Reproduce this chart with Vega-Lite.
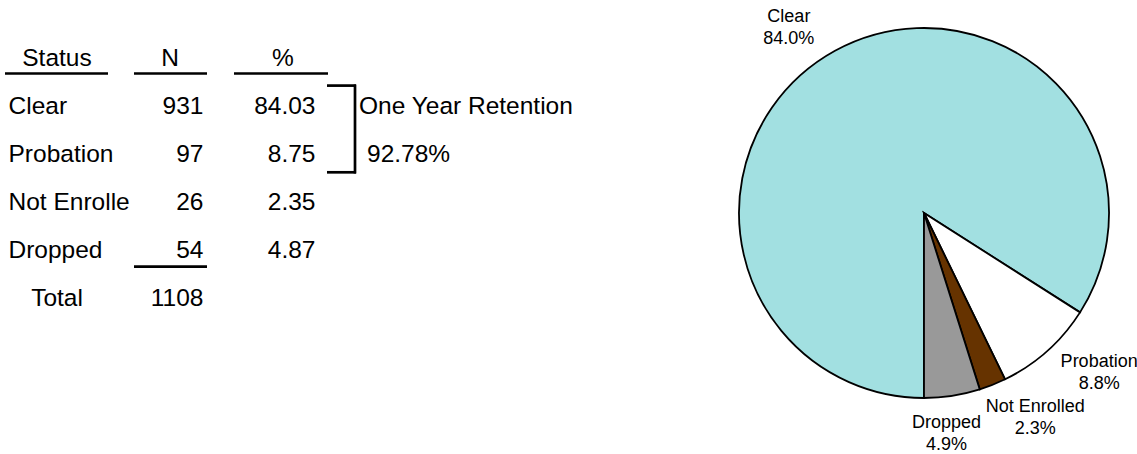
{
  "$schema": "https://vega.github.io/schema/vega-lite/v6.json",
  "padding": 0,
  "background": "white",
  "spacing": 0,
  "config": {
    "view": {"stroke": null},
    "axis": {"disable": true},
    "text": {"font": "Liberation Sans", "fontSize": 24.5, "baseline": "alphabetic", "color": "black"},
    "tick": {"color": "black", "opacity": 1}
  },
  "datasets": {
    "rows": [
      {"k": 1, "status": "Clear", "short": "Clear", "n": 931, "pct": 84.03, "lbl": "Clear\n84.0%"},
      {"k": 2, "status": "Probation", "short": "Probation", "n": 97, "pct": 8.75, "lbl": "Probation\n8.8%"},
      {"k": 3, "status": "Not Enrolled", "short": "Not Enrolle", "n": 26, "pct": 2.35, "lbl": "Not Enrolled\n2.3%"},
      {"k": 4, "status": "Dropped", "short": "Dropped", "n": 54, "pct": 4.87, "lbl": "Dropped\n4.9%"}
    ],
    "total": [{"status": "Total", "n": 1108}],
    "head": [{"h": "Status"}, {"h": "N"}, {"h": "%"}],
    "note": [{"row": "Clear", "t": "One Year Retention"}, {"row": "Probation", "t": "92.78%"}]
  },
  "hconcat": [
    {
      "width": 735,
      "height": 426,
      "layer": [
        {
          "data": {"name": "head"},
          "mark": {"type": "text", "align": "center"},
          "encoding": {
            "x": {"field": "h", "type": "nominal", "scale": {"type": "point", "domain": ["Status", "N", "%"], "range": [57, 283], "padding": 0}},
            "y": {"datum": "hdr", "type": "nominal", "scale": {"type": "point", "domain": ["hdr", "Clear", "Probation", "Not Enrolled", "Dropped", "Total"], "range": [65.5, 306], "padding": 0}},
            "text": {"field": "h", "type": "nominal"}
          }
        },
        {
          "data": {"name": "rows"},
          "mark": {"type": "text", "align": "left", "dx": -48.5},
          "encoding": {
            "x": {"datum": "Status", "type": "nominal"},
            "y": {"field": "status", "type": "nominal"},
            "text": {"field": "short", "type": "nominal"}
          }
        },
        {
          "data": {"name": "rows"},
          "mark": {"type": "text", "align": "right", "dx": 33.5},
          "encoding": {
            "x": {"datum": "N", "type": "nominal"},
            "y": {"field": "status", "type": "nominal"},
            "text": {"field": "n", "type": "quantitative"}
          }
        },
        {
          "data": {"name": "rows"},
          "mark": {"type": "text", "align": "right", "dx": 32.5},
          "encoding": {
            "x": {"datum": "%", "type": "nominal"},
            "y": {"field": "status", "type": "nominal"},
            "text": {"field": "pct", "type": "quantitative", "format": ".2f"}
          }
        },
        {
          "data": {"name": "total"},
          "mark": {"type": "text", "align": "center"},
          "encoding": {
            "x": {"datum": "Status", "type": "nominal"},
            "y": {"field": "status", "type": "nominal"},
            "text": {"field": "status", "type": "nominal"}
          }
        },
        {
          "data": {"name": "total"},
          "mark": {"type": "text", "align": "right", "dx": 33.5},
          "encoding": {
            "x": {"datum": "N", "type": "nominal"},
            "y": {"field": "status", "type": "nominal"},
            "text": {"field": "n", "type": "quantitative"}
          }
        },
        {
          "data": {"name": "note"},
          "transform": [{"filter": "datum.row === 'Clear'"}],
          "mark": {"type": "text", "align": "left", "dx": 76},
          "encoding": {
            "x": {"datum": "%", "type": "nominal"},
            "y": {"field": "row", "type": "nominal"},
            "text": {"field": "t", "type": "nominal"}
          }
        },
        {
          "data": {"name": "note"},
          "transform": [{"filter": "datum.row === 'Probation'"}],
          "mark": {"type": "text", "align": "left", "dx": 84},
          "encoding": {
            "x": {"datum": "%", "type": "nominal"},
            "y": {"field": "row", "type": "nominal"},
            "text": {"field": "t", "type": "nominal"}
          }
        },
        {
          "data": {"values": [{}]},
          "mark": {"type": "tick", "orient": "horizontal", "size": 103, "thickness": 2.7, "xOffset": -0.5, "yOffset": 8},
          "encoding": {"x": {"datum": "Status", "type": "nominal"}, "y": {"datum": "hdr", "type": "nominal"}}
        },
        {
          "data": {"values": [{}]},
          "mark": {"type": "tick", "orient": "horizontal", "size": 73, "thickness": 2.7, "xOffset": 0.5, "yOffset": 8},
          "encoding": {"x": {"datum": "N", "type": "nominal"}, "y": {"datum": "hdr", "type": "nominal"}}
        },
        {
          "data": {"values": [{}]},
          "mark": {"type": "tick", "orient": "horizontal", "size": 94, "thickness": 2.7, "xOffset": -2, "yOffset": 8},
          "encoding": {"x": {"datum": "%", "type": "nominal"}, "y": {"datum": "hdr", "type": "nominal"}}
        },
        {
          "data": {"values": [{}]},
          "mark": {"type": "tick", "orient": "horizontal", "size": 73, "thickness": 2.7, "xOffset": 0.5, "yOffset": 8.8},
          "encoding": {"x": {"datum": "N", "type": "nominal"}, "y": {"datum": "Dropped", "type": "nominal"}}
        },
        {
          "data": {"values": [{}]},
          "mark": {"type": "tick", "orient": "horizontal", "size": 29, "thickness": 2.7, "xOffset": 58.5, "yOffset": -28},
          "encoding": {"x": {"datum": "%", "type": "nominal"}, "y": {"datum": "Clear", "type": "nominal"}}
        },
        {
          "data": {"values": [{}]},
          "mark": {"type": "tick", "orient": "horizontal", "size": 29, "thickness": 2.7, "xOffset": 58.5, "yOffset": 10.6},
          "encoding": {"x": {"datum": "%", "type": "nominal"}, "y": {"datum": "Probation", "type": "nominal"}}
        },
        {
          "data": {"values": [{}]},
          "mark": {"type": "tick", "orient": "vertical", "size": 89, "thickness": 2.7, "xOffset": 72, "yOffset": 15.4},
          "encoding": {"x": {"datum": "%", "type": "nominal"}, "y": {"datum": "Clear", "type": "nominal"}}
        }
      ]
    },
    {
      "width": 370,
      "height": 426,
      "data": {"name": "rows"},
      "encoding": {
        "theta": {"field": "n", "type": "quantitative", "stack": true, "scale": {"range": [3.141592653589793, 9.42477796076938]}},
        "order": {"field": "k", "type": "quantitative"}
      },
      "layer": [
        {
          "mark": {"type": "arc", "outerRadius": 185, "stroke": "black", "strokeWidth": 1.8},
          "encoding": {
            "color": {"field": "status", "type": "nominal", "legend": null,
              "scale": {"domain": ["Clear", "Probation", "Not Enrolled", "Dropped"], "range": ["#A2E0E1", "#FFFFFF", "#663300", "#999999"]}}
          }
        },
        {
          "mark": {
            "type": "text", "radius": 230,
            "dx": {"expr": "datum.k === 1 ? -24.5 : datum.k === 2 ? 22 : datum.k === 3 ? 26 : -12.5"},
            "dy": {"expr": "datum.k === 1 ? 6 : datum.k === 2 ? -23 : datum.k === 3 ? -20 : -17.5"},
            "fontSize": 18, "lineHeight": 22, "lineBreak": "\n", "align": "center", "baseline": "middle"
          },
          "encoding": {"detail": {"field": "status"}, "text": {"field": "lbl"}}
        }
      ]
    }
  ]
}
